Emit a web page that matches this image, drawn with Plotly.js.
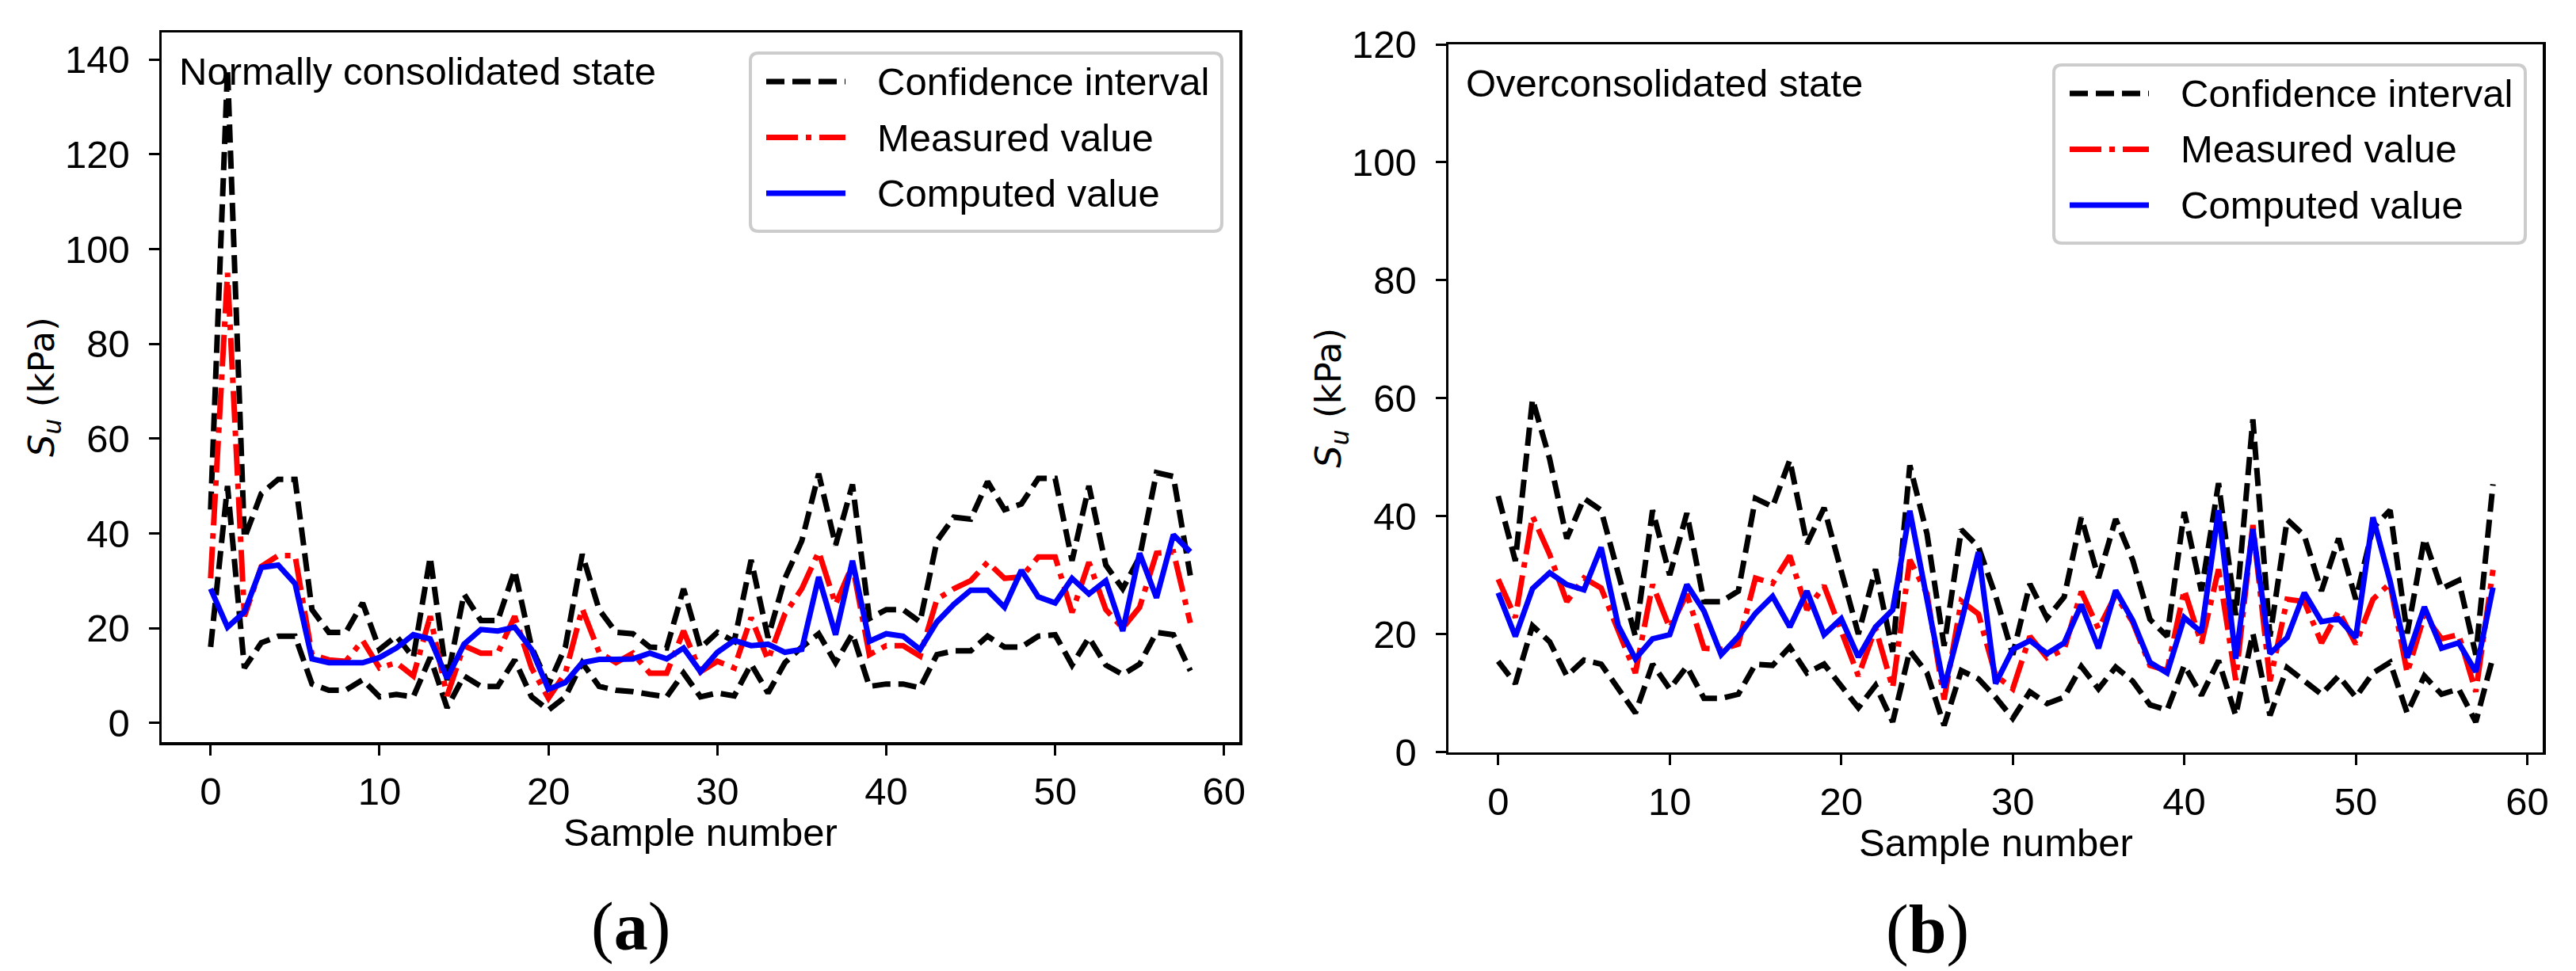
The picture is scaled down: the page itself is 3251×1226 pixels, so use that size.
<!DOCTYPE html>
<html>
<head>
<meta charset="utf-8">
<script src="https://cdn.plot.ly/plotly-3.0.1.min.js"></script>
<style>
  html, body { margin: 0; padding: 0; background: #fff; }
  #chart { width: 3251px; height: 1226px; }
</style>
</head>
<body>
<div id="chart"></div>
<script>
// sample numbers (x)
const sampleNo = [0,1,2,3,4,5,6,7,8,9,10,11,12,13,14,15,16,17,18,19,20,21,22,23,24,25,26,27,28,29,
  30,31,32,33,34,35,36,37,38,39,40,41,42,43,44,45,46,47,48,49,50,51,52,53,54,55,56,57,58];

// (a) normally consolidated state, Su in kPa
const ncUpper = [45,138,39,48.4,51.4,51.4,23.9,19.1,19.1,25.3,15.5,18.3,13.8,35,9,27.2,21.6,21.6,32.2,16,
  8,16,35.6,23.9,19.1,18.8,16,15.8,28.3,15.8,19.1,17.2,34.4,18,30.5,38.4,52.6,37.5,50.3,22,
  23.9,23.9,21.3,38.4,43.4,43,50.9,45,46.2,51.6,51.6,34.2,50,33.3,28.3,35,52.8,52,31.1];
const ncLower = [16,50,11.6,16.9,18.3,18.3,8.2,6.9,6.9,9.1,5.5,6,5.5,13.8,3.2,9.9,7.7,7.7,13.3,5.5,
  2.7,5.5,12.7,7.7,6.9,6.6,6,5.5,10.5,5.5,6.3,5.7,12.4,6.3,12.7,16,18.8,12.7,18.8,7.7,
  8.2,8.2,7.4,14.4,15.2,15.2,18.3,16,16,18.3,18.6,12.2,18,12.2,10.2,12.4,19.1,18.6,11];
const ncMeasured = [30.5,95,22.5,33,35.3,35.3,14.4,13.3,13,17.4,11.6,12.7,9.9,22.5,5.7,16.3,14.7,14.7,22.5,11.6,
  5.2,10.5,24.1,14.9,12.7,14.7,10.5,10.5,19.4,10.8,13,11.6,22.2,13.3,23,28.3,36.1,25,33.3,14.4,
  16.3,16.3,14.1,26.1,28.3,30,33.9,30.5,30.8,35,35,23.3,33.9,23.9,20,24.4,35.8,36.1,21.1];
const ncComputed = [28.3,20.2,23.4,32.8,33.3,29.4,13.5,12.7,12.7,12.7,13.8,15.8,18.6,17.7,9.4,16.6,19.7,19.4,20.2,15.5,
  7.1,8.5,12.7,13.4,13.4,13.5,14.7,13.5,15.8,10.8,14.9,17.4,16.3,16.6,14.9,15.5,30.8,18.6,34.2,17.2,
  18.8,18.3,15.5,21.3,25,28,28,24.4,32.2,26.6,25.3,30.5,27.2,30,19.4,35.8,26.4,39.7,36.1];

// (b) overconsolidated state, Su in kPa
const ocUpper = [43.4,32.4,59.8,49.7,36.2,43,41,30,19.6,41,30,40.5,25.5,25.5,27.3,43,41.6,49.5,35.3,41.4,
  31,20,31,17,48.6,37,18,37.7,34.8,26.5,16.5,28.5,22.7,26.3,39.8,29.5,39.5,32.5,22.5,19.6,
  40.7,27.3,45.6,23.2,56.4,19.6,39.4,36.7,27.3,36.2,25.9,38,41,20.1,36.2,27.7,29.1,16.5,45.4];
const ocLower = [15.4,11.6,21.4,18.7,12.9,15.6,14.9,10.7,6.6,14.9,10.7,14.5,9.1,9.1,9.8,14.9,14.7,17.8,13.4,14.9,
  11.1,7.5,11.3,5.1,17.2,13.4,4.5,13.8,12.4,9.3,5.7,10.2,8.2,9.3,14.5,10.7,14.4,12,8,7.1,
  14.7,9.6,15.5,6.2,20.1,6.2,14.3,12,9.8,12.9,9.3,13.4,15.2,6.6,12.9,9.8,10.7,5.1,16.1];
const ocMeasured = [29.3,22.8,40,33.5,25.5,29.5,27.8,20.5,13.4,28.4,21,26.8,17.6,17.4,18.3,29.5,28.6,33.3,24.1,28.2,
  20.5,12.9,21,10.9,32.6,26.8,8.9,25.6,23.4,13,10.7,19.6,16,17.4,27.2,20.9,26.6,22,14.7,13.8,
  27.5,18.4,31,12.2,38.5,12,25.9,25.5,18.5,23.9,18.3,25.9,28.6,13.4,23.2,19.2,19.9,10.2,30.9];
const ocComputed = [27,19.6,27.7,30.4,28.4,27.5,34.7,21.4,15.8,19.2,19.9,28.4,23.9,16.5,19.6,23.5,26.4,21.2,27.3,19.9,
  22.6,16.1,21.2,24.1,40.9,26.4,10.9,22,33.9,11.6,17.4,18.9,16.7,18.5,25,17.6,27.4,22.3,15.2,13.4,
  22.8,20.3,41,15.8,37.8,16.7,19.4,27,22.1,22.6,19.4,39.8,29,16,24.6,17.6,18.5,13.6,27.9];

const seriesNames = ['Confidence interval', 'Measured value', 'Computed value'];
const panelTexts = ['Normally consolidated state', 'Overconsolidated state'];
const panelLabels = ['(<b>a</b>)', '(<b>b</b>)'];

const W = 3251, H = 1226;
const px = p => p / W;          // pixel -> paper x
const py = p => 1 - p / H;      // pixel -> paper y

const LW = 7;
const DASH_CI = '23px,10px';
const DASH_MEAS = '40px,10px,7px,10px';
const sansFont = 'Liberation Sans, Arial, Helvetica, sans-serif';

function panelTraces(up, lo, meas, comp, xa, ya) {
  const base = { x: sampleNo, mode: 'lines', xaxis: xa, yaxis: ya, showlegend: false, hoverinfo: 'skip' };
  return [
    Object.assign({}, base, { y: up, name: seriesNames[0], line: { color: '#000', width: LW, dash: DASH_CI } }),
    Object.assign({}, base, { y: lo, name: seriesNames[0], line: { color: '#000', width: LW, dash: DASH_CI } }),
    Object.assign({}, base, { y: meas, name: seriesNames[1], line: { color: '#ff0000', width: LW, dash: DASH_MEAS } }),
    Object.assign({}, base, { y: comp, name: seriesNames[2], line: { color: '#0000ff', width: LW } })
  ];
}

const data = [].concat(
  panelTraces(ncUpper, ncLower, ncMeasured, ncComputed, 'x', 'y'),
  panelTraces(ocUpper, ocLower, ocMeasured, ocComputed, 'x2', 'y2')
);

function axis(extra) {
  return Object.assign({
    showline: true, linecolor: '#000', linewidth: 3.5, mirror: true,
    ticks: 'outside', ticklen: 13, tickwidth: 3, tickcolor: '#000',
    showgrid: false, zeroline: false, fixedrange: true,
    tickfont: { family: sansFont, size: 49, color: '#000' }
  }, extra);
}

// panel boxes in pixels: [left, top, right, bottom]
const boxA = [204, 41, 1564, 937];
const boxB = [1828, 56, 3209, 949.5];

function roundBox(x0, y0, x1, y1, r) {
  return `M${px(x0 + r)},${py(y0)} L${px(x1 - r)},${py(y0)} Q${px(x1)},${py(y0)} ${px(x1)},${py(y0 + r)} ` +
    `L${px(x1)},${py(y1 - r)} Q${px(x1)},${py(y1)} ${px(x1 - r)},${py(y1)} ` +
    `L${px(x0 + r)},${py(y1)} Q${px(x0)},${py(y1)} ${px(x0)},${py(y1 - r)} ` +
    `L${px(x0)},${py(y0 + r)} Q${px(x0)},${py(y0)} ${px(x0 + r)},${py(y0)} Z`;
}

const shapes = [];
const annotations = [];

function legendBlock(box) {
  const right = box[2] - 22, top = box[1] + 26;
  const left = right - 595, bottom = top + 225;
  shapes.push({ type: 'path', xref: 'paper', yref: 'paper', path: roundBox(left, top, right, bottom, 10),
    line: { color: '#cccccc', width: 4 }, fillcolor: 'rgba(255,255,255,0.8)', layer: 'above' });
  const styles = [
    { color: '#000', dash: DASH_CI },
    { color: '#ff0000', dash: DASH_MEAS },
    { color: '#0000ff', dash: 'solid' }
  ];
  seriesNames.forEach((nm, k) => {
    const yy = top + 36 + k * 70.5;
    shapes.push({ type: 'line', xref: 'paper', yref: 'paper', x0: px(left + 20), x1: px(left + 120),
      y0: py(yy), y1: py(yy), line: { color: styles[k].color, width: LW, dash: styles[k].dash }, layer: 'above' });
    annotations.push({ xref: 'paper', yref: 'paper', x: px(left + 158), y: py(yy), xanchor: 'left', yanchor: 'middle',
      text: nm, showarrow: false, font: { family: sansFont, size: 49, color: '#000' } });
  });
}
legendBlock(boxA);
legendBlock(boxB);

[boxA, boxB].forEach((b, k) => {
  // state text inside the plot
  annotations.push({ xref: 'paper', yref: 'paper', x: px(b[0] + 20), y: py(b[1] + 49), xanchor: 'left', yanchor: 'middle',
    text: panelTexts[k], showarrow: false, font: { family: sansFont, size: 49, color: '#000' } });
  // x axis title
  annotations.push({ xref: 'paper', yref: 'paper', x: px((b[0] + b[2]) / 2), y: py(b[3] + 114), xanchor: 'center', yanchor: 'middle',
    text: 'Sample number', showarrow: false, font: { family: sansFont, size: 49, color: '#000' } });
  // y axis title
  annotations.push({ xref: 'paper', yref: 'paper', x: px(b[0] - 149), y: py((b[1] + b[3]) / 2), xanchor: 'center', yanchor: 'middle',
    textangle: -90, text: '<i>S</i><sub><i>u</i></sub> (kPa)', showarrow: false,
    font: { family: 'DejaVu Sans, sans-serif', size: 45, color: '#000' } });
});

annotations.push({ xref: 'paper', yref: 'paper', x: px(796), y: py(1170), xanchor: 'center', yanchor: 'middle',
  text: panelLabels[0], showarrow: false, font: { family: 'Liberation Serif, Times New Roman, serif', size: 86, color: '#000' } });
annotations.push({ xref: 'paper', yref: 'paper', x: px(2432), y: py(1173), xanchor: 'center', yanchor: 'middle',
  text: panelLabels[1], showarrow: false, font: { family: 'Liberation Serif, Times New Roman, serif', size: 86, color: '#000' } });

const layout = {
  width: W, height: H,
  margin: { l: 0, r: 0, t: 0, b: 0, pad: 0 },
  paper_bgcolor: '#fff', plot_bgcolor: '#fff',
  showlegend: false,
  xaxis: axis({ domain: [px(boxA[0]), px(boxA[2])], anchor: 'y', range: [-2.9, 60.9], tickmode: 'linear', tick0: 0, dtick: 10, ticklabelstandoff: 4 }),
  yaxis: axis({ domain: [py(boxA[3]), py(boxA[1])], anchor: 'x', range: [-4.06, 145.7], tickmode: 'linear', tick0: 0, dtick: 20, ticklabelstandoff: 14 }),
  xaxis2: axis({ domain: [px(boxB[0]), px(boxB[2])], anchor: 'y2', range: [-2.9, 60.9], tickmode: 'linear', tick0: 0, dtick: 10, ticklabelstandoff: 4 }),
  yaxis2: axis({ domain: [py(boxB[3]), py(boxB[1])], anchor: 'x2', range: [0, 120], tickmode: 'linear', tick0: 0, dtick: 20, ticklabelstandoff: 14 }),
  shapes: shapes,
  annotations: annotations
};

Plotly.newPlot('chart', data, layout, { staticPlot: true, displayModeBar: false });
</script>
</body>
</html>
